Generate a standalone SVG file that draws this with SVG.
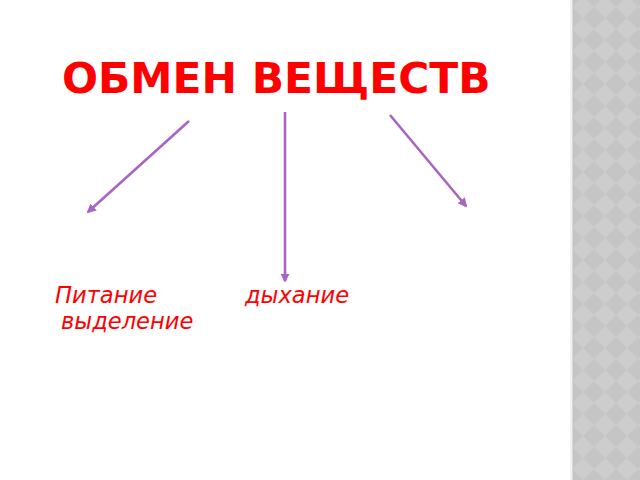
<svg xmlns="http://www.w3.org/2000/svg" width="640" height="480" viewBox="0 0 640 480">
<style>
.title{font-family:"DejaVu Sans",sans-serif;font-weight:bold;font-size:42.4px;fill:#ff0000}
.lbl{font-family:"DejaVu Sans",sans-serif;font-style:italic;font-size:22.6px;fill:#ff0000}
.conn{stroke:#a865c3;stroke-width:2.6;fill:none;marker-end:url(#ah)}
</style>
<defs>
<marker id="ah" viewBox="0 0 10 10" refX="8" refY="5" markerWidth="3.6" markerHeight="3.6" orient="auto" markerUnits="strokeWidth">
<path d="M0,0 L10,5 L0,10 z" fill="#a865c3"/>
</marker>
<pattern id="dia" x="572" y="-4" width="22" height="22" patternUnits="userSpaceOnUse">
<rect width="22" height="22" fill="#c5c5c5"/>
<path d="M11,0 L22,11 L11,22 L0,11 z" fill="#cdcdcd"/>
</pattern>
</defs>
<rect width="640" height="480" fill="#ffffff"/>
<g id="strip">
<rect x="570" y="0" width="70" height="480" fill="url(#dia)"/>
<rect x="570" y="0" width="2" height="480" fill="#f2f2f2"/>
<rect x="572" y="0" width="1" height="480" fill="#d8d8d8"/>
</g>
<g id="title"><text class="title" x="62" y="93">ОБМЕН ВЕЩЕСТВ</text></g>
<g id="connectors">
<line class="conn" x1="189" y1="121" x2="88" y2="212"/>
<line class="conn" x1="285" y1="112" x2="285" y2="281"/>
<line class="conn" x1="390" y1="115" x2="466" y2="206"/>
</g>
<g id="n-pitanie"><text class="lbl" x="55" y="303">Питание</text></g>
<g id="n-dyhanie"><text class="lbl" x="245" y="303">дыхание</text></g>
<g id="n-vydelenie"><text class="lbl" x="61" y="329">выделение</text></g>
</svg>
